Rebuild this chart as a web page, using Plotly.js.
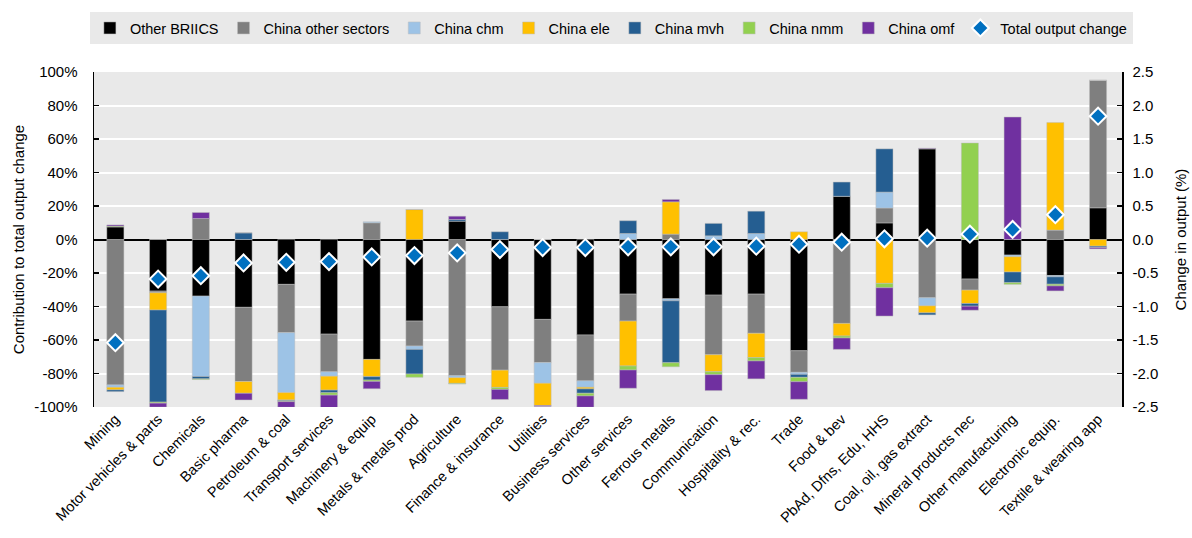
<!DOCTYPE html>
<html>
<head>
<meta charset="utf-8">
<script src="https://cdn.plot.ly/plotly-3.0.1.min.js"></script>
<style>html,body{margin:0;padding:0;background:#fff;}#chart{width:1192px;height:538px;}</style>
</head>
<body>
<div id="chart"></div>
<script>
const categories = ["Mining","Motor vehicles & parts","Chemicals","Basic pharma","Petroleum & coal","Transport services","Machinery & equip","Metals & metals prod","Agriculture","Finance & insurance","Utilities","Business services","Other services","Ferrous metals","Communication","Hospitality & rec.","Trade","Food & bev","PbAd, Dfns, Edu, HHS","Coal, oil, gas extract","Mineral products nec","Other manufacturing","Electronic equip.","Textile & wearing app"];

// Contributions (%) to total output change
const otherBRIICS   = [7.5,-30.8,-33.8,-40.5,-26.8,-56.5,-71.6,-48.7,10.9,-40.2,-47.7,-57.0,-32.6,-35.4,-33.2,-32.6,-66.4,25.8,9.9,54.2,-23.6,-9.3,-21.5,18.9];
const chinaOther    = [-86.8,-1.0,12.5,-44.3,-28.8,-22.5,10.0,-14.9,-81.3,-37.8,-25.8,-27.4,-16.1,3.2,-35.6,-23.4,-12.9,-50.1,8.9,-34.8,-6.6,0,5.6,76.1];
const chinaChm      = [-1.4,0,-48.0,0,-35.8,-2.6,0.6,-2.0,-1.2,0,-12.3,-3.8,3.6,-1.2,2.2,3.6,-1.2,0,9.5,-4.8,0,-1.0,-0.8,0];
const chinaEle      = [-1.6,-10.3,0,-7.0,-4.4,-8.3,-10.3,17.9,-3.4,-10.3,-13.3,-1.0,-26.8,19.3,-10.1,-14.5,4.6,-7.5,-26.2,-4.2,-8.0,-9.1,64.2,-4.0];
const chinaMvh      = [-1.0,-55.0,-1.4,4.0,-0.5,-1.6,-2.0,-14.7,1.0,4.6,0,-2.6,7.6,-37.0,7.4,13.3,-1.8,8.5,25.8,-1.2,-1.6,-6.4,-4.4,-0.8];
const chinaNmm      = [0.5,-0.6,-0.4,0,-0.5,-1.4,-0.8,-2.0,-0.4,-1.2,0,-1.6,-2.4,-2.4,-1.8,-2.0,-2.6,-1.2,-2.6,0,57.6,-1.0,-1.0,0];
const chinaOmf      = [0.7,-2.4,3.6,-4.0,-3.4,-7.4,-4.4,0,2.0,-6.0,-0.6,-6.8,-10.9,1.4,-9.5,-10.7,-10.5,-6.8,-16.9,0.3,-2.4,73.1,-3.0,-0.8];
// Change in output (%), right axis
const totalChange   = [-1.54,-0.59,-0.54,-0.35,-0.34,-0.33,-0.26,-0.24,-0.20,-0.15,-0.12,-0.12,-0.11,-0.11,-0.11,-0.10,-0.07,-0.04,0.01,0.02,0.08,0.15,0.37,1.84];

const seriesNames  = ["Other BRIICS","China other sectors","China chm","China ele","China mvh","China nmm","China omf"];
const seriesColors = ["#000000","#7f7f7f","#9dc3e6","#ffc000","#255e91","#92d050","#7030a0"];
const seriesValues = [otherBRIICS, chinaOther, chinaChm, chinaEle, chinaMvh, chinaNmm, chinaOmf];

const leftTickVals  = [-100,-80,-60,-40,-20,0,20,40,60,80,100];
const leftTickText  = ["-100%","-80%","-60%","-40%","-20%","0%","20%","40%","60%","80%","100%"];
const rightTickVals = [-2.5,-2,-1.5,-1,-0.5,0,0.5,1,1.5,2,2.5];
const rightTickText = ["-2.5","-2.0","-1.5","-1.0","-0.5","0.0","0.5","1.0","1.5","2.0","2.5"];

const FONT = "Liberation Sans, Arial, sans-serif";

const traces = seriesNames.map((n,i)=>({
  type:'bar', name:n, x:categories, y:seriesValues[i],
  marker:{color:seriesColors[i], line:{color:'rgba(190,190,190,0.8)', width:0.6}},
  hoverinfo:'x+y+name'
}));
traces.push({
  type:'scatter', mode:'markers', name:'Total output change', x:categories, y:totalChange, yaxis:'y2',
  marker:{symbol:'diamond', color:'#0070c0', size:13, line:{color:'#ffffff', width:2}}
});

const layout = {
  width:1192, height:538,
  margin:{l:94, r:70, t:72, b:131},
  paper_bgcolor:'#ffffff', plot_bgcolor:'#e9e9e9',
  barmode:'relative', bargap:0.6,
  font:{family:FONT, size:15, color:'#000'},
  showlegend:true,
  legend:{orientation:'h', xref:'paper', yref:'paper', x:-0.004, xanchor:'left', y:1.179, yanchor:'top',
          bgcolor:'#e9e9e9', font:{family:FONT, size:14.5, color:'#000'}, itemwidth:30, traceorder:'normal',
          tracegroupgap:0, itemclick:false},
  xaxis:{type:'category', range:[-0.5, 23.56], tickangle:-45, showgrid:false, zeroline:false, ticks:'',
         tickfont:{family:FONT, size:14.5, color:'#000'}, fixedrange:true},
  yaxis:{range:[-100,100], tickvals:leftTickVals, ticktext:leftTickText, showgrid:true, gridcolor:'#ffffff', gridwidth:2,
         zeroline:true, zerolinecolor:'#000', zerolinewidth:2, showline:true, linecolor:'#000', linewidth:1.5,
         ticks:'inside', ticklen:5, tickcolor:'#000', tickwidth:1.5, ticklabelstandoff:12,
         title:{text:'Contribution to total output change', font:{family:FONT, size:15}, standoff:6},
         tickfont:{family:FONT, size:15}},
  yaxis2:{range:[-2.5,2.5], overlaying:'y', side:'right', tickvals:rightTickVals, ticktext:rightTickText,
          showgrid:false, zeroline:false, showline:true, linecolor:'#000', linewidth:1.5,
          ticks:'inside', ticklen:5, tickcolor:'#000', tickwidth:1.5, ticklabelstandoff:6,
          title:{text:'Change in output (%)', font:{family:FONT, size:15}, standoff:18},
          tickfont:{family:FONT, size:15}}
};

Plotly.newPlot('chart', traces, layout, {displayModeBar:false, staticPlot:true});
</script>
</body>
</html>
